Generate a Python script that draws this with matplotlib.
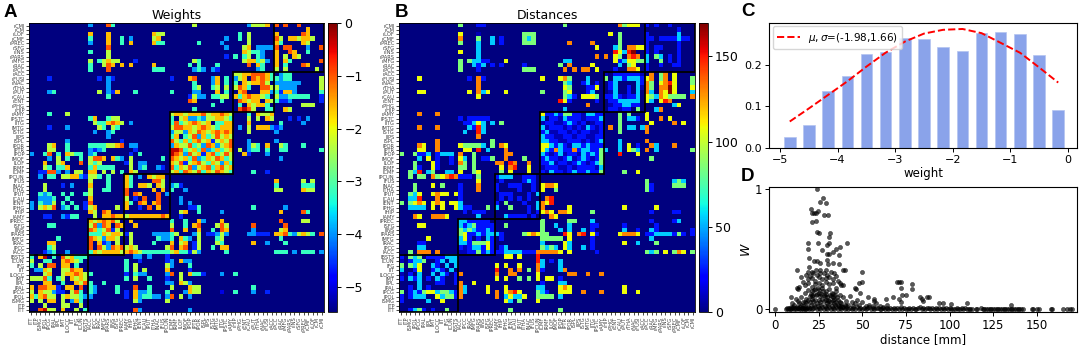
import numpy as np
import matplotlib
matplotlib.use("Agg")
import matplotlib.pyplot as plt
from matplotlib.patches import Rectangle

W, H = 1084, 351

# Colour letters used in the matrix rows -> values of each panel
WEIGHT_LEVELS = {"n": -5.0, "b": -4.6, "c": -3.95, "g": -3.2, "y": -2.35, "o": -1.6, "r": -1.0, "d": -0.3}
DIST_LEVELS = {"n": 8, "b": 24, "c": 55, "g": 85, "y": 108, "o": 130, "r": 150, "d": 168}

BLOCK_SIZES = [13, 8, 10, 14, 9, 11]

REGIONS = ["lTT", "lTP", "lSMG", "lPOL", "lPCG", "lPAL", "lIPL", "lMT", "lLOCC", "lIT", "lFG", "lCUN", "lBSTS",
           "lACC", "lPCC", "lRAC", "lMFG", "lPARS", "lINS", "lSFG", "lPREC",
           "lAMY", "lHIP", "lPHG", "lENT", "lCAU", "lPUT", "lTHA", "lNAC", "lFUS", "lPCUN",
           "lCMF", "lRMF", "lLOF", "lMOF", "lPOP", "lPTR", "lPOR", "lSPL", "lIPS", "lSTG", "lMTG", "lITG", "lPSTC",
           "rAMY", "rHIP", "rPHG", "rENT", "rCAU", "rPUT", "rTHA", "rNAC", "rFUSI",
           "rACC", "rPCC", "rRAC", "rMFG", "rPARS", "rINS", "rSFG", "rPREC", "rCMF", "rLOF", "rCM", "rCMI"]

# Sparse rows, top to bottom: "column+colour letter"
WEIGHT_ROWS = [
    "13c 17r 18g 36y 48c 49y 50y 51y 52o 54r 56r 59r",
    "61o",
    "13o 17o 27o 28y 29y 46g 48y 54o 60r 61o",
    "13g 17o 20g 22c 27y 28o 43c 46g 48y 54r 55y 57o 58o 59y 60o 61o 62y",
    "13c 17o 20g 22o 27o 28g 29g 37g 42c 48y 54o 55g 60o 61y",
    "17r 43c 47y 48o 50c 51c 52c 53c 54r 56r 57r 61c 64r",
    "13g 17y 47o 48y 49g 50g 51c 54o 57r 58o 61g",
    "17y 43b 45g 47g 48y 50g 51c 54o 56y 58o 59y",
    "13y 15g 16y 17o 18y 19y 23b 36y 37g 47y 48o 49o 50g 51y 52c 54o 56o 57g 64r",
    "13g 16y 17r 18o 20o 22o 27o 35g 37g 41g 48r 50o 51g 54o 56g 60r 61o",
    "13g 17r 27g 28g 29g 36c 37g 38c 40c 41b 50c 51g 54y 56y 63y",
    "45y 46y 47o 48o 49r 50r 51r 52o 53g 55c 56g 57g",
    "4b 15b 17c 18b 31b 35o 36r 40c 41o 43g 45c 46y 47o 49r 50o 51r 52o 53g 54g 55c 56g 57g 64y",
    "17c 36g 40c 41o 43g 45g 47o 48y 49o 50o 51r 52y 54c 55c 56c 57c 58c 59c 64y",
    "17c 36g 37y 40g 41y 43y 45y 46r 47o 48g 51r 52r 53y 54y 55c 56c 57c 58c 64y",
    "4c 5g 15y 17c 18b 19o 23g 31g 36c 37c 41o 43g 46o 47r 51o 52o 53c 54g 55b 56o 57o 58c 64g",
    "17g 35b 36y 37c 38c 40g 41g 42y 43y 45o 46g 47o 48r 49o 50o 51y 52g 54y 55c 56c 57g 58g 59g 60g 61g 64b",
    "35r 36o 42g 46r 47o 48y 49o 50o 52o 53y 54g 55b 56b 57c 64b",
    "40g 46g 48o 49y 50o 51o 52g 60y 61y 62y",
    "36g 46r 47d 48r 49y 52g 53g 56o 57y",
    "4g 8y 31y 32o 33o 34y 35o 36o 37o 38r 39y 40o 41o 42r 43o 44y 48g 50o 51y 52y 53o",
    "13g 14o 17g 18y 19y 31g 33y 34o 35c 36c 37g 38c 39y 40y 41o 42o 43y 44g 48y 50y 52o 53y 57b 59b 61c",
    "14y 15g 16g 17o 18r 19o 20y 22c 31g 32r 33g 34y 35o 36r 37o 38y 39o 41g 42g 43o 44o 48o 55g 60c",
    "4b 8c 15y 16g 18y 19g 31y 32r 33r 34o 35o 36y 37o 38r 39o 40y 41g 42o 43o 44o 46c 48y 50o 51o 52o 53c 54b 55c",
    "14c 17c 18g 31c 32y 33y 34c 35o 36y 37r 38o 39y 40o 41r 42o 43r 44o 48y 54c",
    "17c 31g 32o 34g 35y 36r 37c 38o 39g 40y 41r 42y 43o 44y",
    "8c 20b 31r 32y 33g 34o 35g 36o 37r 38y 39o 40b 41y 42o 43y 44r 48c 54c",
    "4y 5o 8g 13g 14g 15g 16g 17y 18y 19o 20r 22c 23c 31c 32o 33y 34y 35r 36g 37y 38c 39r 40o 41c 42y 43o 44r 48c 49y 50g 52o 55y 56g 60g",
    "4y 5y 8g 13c 14b 15c 16g 23b 31d 32d 33r 34g 35y 36o 37g 38r 39c 40g 41o 42g 43y 44o 46y 48c 49g 50g 52g 55g 56g 64g",
    "0c 3g 4r 6g 8o 9y 10g 11g 13c 14g 22b 24g 31d 32r 33o 34c 35r 36y 37o 38b 39o 40r 41g 42y 43r 44y 47o 48b 52c",
    "4c 6y 8g 11g 13y 14r 15r 16o 18o 19g 20c 22y 29g 31r 32o 33y 34o 35g 36r 37c 38g 39o 40y 41r 42o 43g 44y 55c",
    "3o 6y 7o 11r 13y 14g 15y 21b 22y 24c 25c 31o 32y 33r 34b 35y 36o 37r 38y 39g 40o 41y 42c 43o 44g",
    "3y 4g 6g 7g 8o 13g 14o 15g 16g 17g 18g 22y 24c 25g 28c 29b 31r 32g 33o 34y 35r 36c 37y 38o 39r 40g 41o 42r 43y 44o",
    "2b 3b 4r 5r 6c 8c 10y 11y 13o 14o 16y 18y 20g 22o 23y 31y 32o 33g 34r 35o 36y 37r 38g 39o 40y 41r 42o 43y 44g 49g 52b",
    "2c 4g 5g 7y 8y 9o 10o 11c 12b 13y 14y 15g 17g 21o 22g 24c 26o 27y 28o 29o",
    "13y 17g 21o 22g 27r 28r 29y 54o 60y 62y",
    "3y 7b 9c 13o 17g 21o 22g 24o 25o 26y 28o 29y 31c 32g 33b 54g 60g 61g 62g",
    "3y 13y 16g 17g 21r 27o 29o 31g 34c 54y 55y 60o 61y 62y",
    "2g 3c 4g 7g 9g 12g 13y 21r 23r 24o 28r 30c",
    "2c 3c 4c 5g 8g 13o 21y 23b 25r 28r 33c",
    "0c 2g 3c 4c 5y 7g 9g 12b 13r 21o 22g 24r 25o 27o 28r 33c 35c",
    "0c 2y 3o 4y 5r 7c 8g 10g 12b 13y 14o 19y 21o 24b 26r 28o 35b 36b 37g 49g 56c",
    "13o 14y 16r 17o 33y 34o 37g 42c 55o 60r 61g",
    "3b 4b 7c 8b 9g 10g 14y 16o 17o 18r 19o 20o 21y 22o 23o 24o 25o 26o 27o 28o 29r 30o 33b",
    "13o 14y 15o 16r 17o 18r 19y 22o 31g 34g 37o 38c 42o 55r 60y 61y",
    "4g 5g 13y 14r 15c 16r 17o 19r 20o 23o 31y 34g 36o 37r 41y 42r 43y 49r 56r",
    "13r 14o 15g 16y 17r 18b 19y 31r 34o 37o 40g 42r 43o 49c 55y 56o",
    "13g 14g 15g 16o 17y 18o 19o 20y 21b 22y 27c 28c 29c 30c 31g 32y 36c 37y 39b 40b 41c 42y 43c 48c 49c 50b 51b 52b 54o 55o 56r 57g 58c 59y 60o 61y 62g 64r",
    "6g 13r 14o 15y 16c 17o 18o 19y 22y 28g 29c 30c 31g 33o 34g 35c 37y 41g 42y 55g",
    "4o 5o 13r 15o 16b 17c 19y 22y 27g 31o 33y 34o 36b 37y 41y 42g 49o 52c 56g",
    "4g 5y 13r 15r 16y 17c 18r 19o 20r 21y 22o 23y 30y 31r 33o 34r 36b 37y 40g 42o 43o",
    "3b 4c 5g 8c 13g 14o 15y 16o 17o 18o 19o 20y 21o 22r 23o 24y 25g 26g 27g 28g 29g 30g 31y 32o 33g 34g 35b 36y 37c 43g 54g 55g 56g 58c 60g 61g 62g 64c",
    "0g 2o 3d 5g 7r 8y 9o 10g 11g 12g 23c 24c 26c 30b",
    "0y 3g 4g 7o 8r 9o 10y 11g 21g 24b 30b 31c 33o 34c 35c",
    "0g 2y 4r 5r 7o 8o 10g 21g 23y 30y 31c 35g",
    "1c 2c 3o 4y 7y 8y 9r 10o 11o 21g 23y 25y 30o 35b",
    "3y 4o 7y 8o 9o 10r 11o 12y 13g 21b 23g 24c 25c 30c 31r 33y 35o 36g 37g 38b 42c 45g",
    "0y 1y 2y 3r 4g 6g 7y 9o 10y 11o 12y 21g 23y 26g 30b 33y",
    "3o 4o 7g 10o 11y 12r 13g 16g 30c 31c 33o 34y 35c",
    "0o 2r 3r 4o 5o 6b 8o 9o 11r 13g 14c 19g 23r 26g 31y 35o 36y 37y 49g",
    "0y 2o 3y 4y 5c 6b 7b 9y 10r 11g 13g 14c 19g 21b 23o 24c 25c 26g 30g 34c 35o 36y 37y 42n 45g 49c 52b",
    "0o 1g 2o 3r 4y 5y 7y 8o 9y 10y 11g 12c 13c 21b 23o 24c 25g 26g 27c 28c 30c 31r 33y 35c",
    "0y 2y 4o 5o 7y 9c 10o 11g 23y 24c 30y",
    "3y 7y 8y 11y",
    "2r 3d 4y 5y 7o 10y 12g 23r 24c 35c",
]

DIST_ROWS = [
    "13g 17b 18b 36g 48o 49g 50y 51y 52y 54b 56b 59b",
    "61b",
    "13y 17n 27g 28g 29g 46y 48g 54b 61c",
    "13o 17g 20c 22b 27g 28c 29g 48g 54b 55b 57b 58b 59b 60b 61c 62b 63b",
    "13g 17c 20c 22b 27g 28g 29g 37o 42o 48g 54b 61b",
    "17c 43y 47c 48g 50o 51o 52y 53y 54b 56b 57b 61b",
    "13y 17c 47r 48y 49c 50r 51d 54b 56b 61b",
    "17c 43o 45o 47y 48g 50o 51r 52o 54c 56g 57c 59b 61b",
    "13g 15g 16c 17c 18b 19b 23y 36c 37c 47y 48b 49c 50y 51y 52g 53g 54c 57g 59b 61b",
    "13g 16c 17b 18c 20b 22b 27b 35g 37o 42y 48c 50g 51y 54b 57b 60b 61b",
    "13g 17b 27g 28g 29g 36o 38o 40o 41o 43y 47b 50o 51o 52y 54b",
    "45n 47b 48b 49b 50b 51b 52b 53n 55o 57g 58o 60y",
    "4y 15b 17o 18b 31y 35y 36o 37g 41c 45g 47c 48c 49b 50c 51c 52c 53b 54y 55o 57g 58o 60y 64g",
    "17o 36g 37c 40b 41c 43b 46b 47c 52c 53b 54o 55g 57y 58o 59r 60y 64g",
    "17o 36y 37g 41b 42b 43y 46b 47c 50b 52c 53n 54o 55g 57o 58o 59d 60y 64y",
    "4y 5y 15y 17o 18c 19y 23y 31g 36g 37y 41b 42c 46n 47c 50b 52c 54o 55c 57o 58y 59d 60y 64c",
    "17y 36g 37c 38b 40y 41y 42y 43g 45b 46b 47c 48b 49n 50b 51b 52c 54y 55g 56c 57o 58y 59g 60g 61g 62g 64o",
    "35r 36y 37b 43b 46b 47b 48c 49c 50c 51c 52c 54y 55c 57y 58r 59o",
    "41o 46n 47b 48b 49c 50c 51b 52b 60c 61y",
    "36c 46b 47b 48n 49b 50b 52g 56c 57o",
    "4o 8o 31y 32b 33b 34c 35b 36g 37g 38b 39b 40n 41c 42c 43b 44b 48g 50g 54y",
    "13b 15b 16b 17b 18b 19b 31c 33b 34b 35n 36c 37b 38b 39b 40n 41b 42b 43b 44c 48g 50c 51c 52b 54y 57o 59y",
    "14b 15b 16c 17y 18c 20c 22g 31n 32b 33b 34n 35n 36b 37c 38b 39n 40b 42n 43b 44b 48g 55y 60o 62y",
    "4o 8o 15c 16b 17r 18c 31c 32n 33b 34b 35b 36n 37b 38n 39b 40n 41c 42b 43n 44b 46o 48g 50c 51c 53c 54o",
    "14c 17r 18c 31b 32c 33n 34n 35b 36b 37n 38b 39n 40b 41b 42n 43n 44b 48g 54o",
    "17o 31c 32b 33b 34n 35n 36b 37b 38n 39b 40b 41n 42n 43b 44b",
    "8o 20g 31c 32c 33b 34b 35n 36n 37b 38b 39b 40n 41b 42n 43b 44c 48c 54o",
    "4o 5y 8o 13y 14g 15g 16g 17g 18c 20g 22o 23y 31y 32y 33c 34b 35c 36b 37n 38c 39c 40b 41c 42b 43b 44b 48c 50y 52b 55o 56c 60o",
    "4y 5y 8o 14y 15y 17r 19c 23o 31y 32c 33b 34o 35c 36b 37b 38o 39b 40c 41c 42b 43b 44g 45c 48c 50y 51g 52c 54o 56c 64g",
    "0g 3g 4b 5b 6c 8b 9c 10c 11c 13o 16g 23o 24o 31c 32b 33n 34b 35c 36n 37b 38b 39n 40c 41b 42c 43b 44g 48r 52y",
    "4c 6y 8b 11b 13y 14c 16g 18b 19b 20g 23o 27g 31b 32c 33b 34b 35n 36b 37c 38n 39b 40c 41b 42n 43b 44g 55g",
    "3g 7y 8b 11b 13o 14g 16g 21o 22o 24r 25o 28o 31b 32b 33c 34n 35b 36b 37n 38b 39c 40b 41n 42b 43c 44g",
    "3g 4b 7y 8b 13g 14g 16g 22y 24o 25r 28y 31n 32b 33b 34b 35n 36n 37b 38n 39b 40b 41b 42b 43n 44c",
    "2g 3c 4r 6c 7g 10c 11c 13y 16g 17y 22g 24y 28y 31b 32n 33c 34b 35b 36n 37b 38c 39b 40b 41c 42b 43b 44g 49g 52y",
    "2g 4g 5g 7o 8g 9y 10o 11r 12o 13b 14b 15b 17g 21b 22c 23c 24c 27b 28b 29b",
    "17y 22b 27b 28c 29b 54g 60c 61g 62c",
    "3g 7y 9g 13b 17o 21b 24b 25b 26b 29b 31y 32o 33o 34y 54g 55b 60g 61g 62g",
    "3g 13b 17o 21b 26b 29b 31y 34g 54g 55b",
    "2g 3c 4y 7y 8o 9y 10y 12y 13b 22b 23b 24b 28b 30c",
    "2c 3c 4r 8o 13b 22b 24b 26b 28b 32o 33r",
    "0g 2g 3y 4o 5y 7y 8o 9y 11y 12y 13c 21b 23g 27b 30c 31o 32y 33r",
    "2c 3c 4c 5c 7y 9y 12y 13c 14b 15b 19g 21c 24g 28b 30c 31o 37y 49y 56y",
    "14b 16b 17b 18b 28b 30b 31y 32o 33y 35o 36o 37y 42g 55b 60b 61b",
    "3o 4y 7o 8o 9o 10y 17c 23c 24b 25b 26b 27b 29b 33o 34y",
    "13c 14c 15b 16b 17b 18b 19b 31g 37g 38g 42c 55b 60b 61c",
    "4y 5y 13c 14b 15c 16g 17b 18b 19b 20b 23g 31g 34c 37c 42b 43b 49b 56b",
    "13g 14c 15g 16c 17b 18b 19c 20b 31g 35c 37c 40c 42b 49c 52b 55c 56b 64b",
    "13g 14y 15b 16b 17c 18b 19c 20c 21c 22b 27g 28y 29o 30y 31g 32g 36r 37y 39o 40r 42y 43b 48y 49o 50o 51o 52y 54b 55b 56c 57c 58c 59c 60b 61g 62b 64b",
    "6y 13c 14y 15b 17b 19c 20b 22b 31g 32g 33g 34g 35g 37y 42b 55c",
    "4b 5b 13c 14c 15b 16g 17g 18g 19y 20b 31c 36y 37c 42b 49y 52c 56g",
    "4c 5c 13b 14n 15b 16c 17c 18b 19y 20b 22b 23c 31g 32c 33g 34c 36y 37c 40c 42b",
    "2g 4o 5o 6o 8o 13n 14n 15b 16b 17g 18b 19c 20b 21b 22b 23c 24c 25c 26c 27b 28b 29b 30o 31o 32o 33o 34o 35y 37y 43b 54g 55c 56g 58y 60g 61o 62y 64g",
    "0b 2g 3c 4g 6b 7b 8b 9b 10c 11c 12c 23y 24y 26y 30r",
    "0n 2b 3c 4c 5g 8b 9c 11c 12c 30r 31c 33b 35c",
    "0g 2g 3c 4y 7c 8b 10c 12c 21y 23y 26y 30o 31c 35c",
    "0c 3b 4y 7b 8c 9b 11c 21r 24o 26o 28g 30o 31b 35c 36o",
    "0n 2b 4c 7c 9c 10b 12b 13o 21o 24o 25o 30y 37o 38o 41o 44o",
    "0b 2c 3b 4c 6b 8c 9b 12b 21y 23y 26g 28g 30y 32y 33y 35b",
    "4c 8b 9b 12b 13o 16y 31b 35c 36c",
    "2b 4c 6b 13o 14c 19y 23y 30c 31c 35y 36o 37y 49y",
    "0g 2b 3c 4b 5g 6y 7y 8c 9g 10g 11c 12b 13o 14c 19y 21o 23y 24o 25r 26y 30g 31c 32b 35y 36y 37y 40o 44o 49y 52y",
    "0b 2b 3c 4c 5c 8y 9c 10g 11g 12b 13o 21o 23c 24y 25c 26c 27y 30g 31g 32g 33g 35c",
    "0b 6c 9y 23y 24c 26g 30y",
    "",
    "2b 3c 4g 5b 7b 10g 24g 35g",
]

HIST_CENTERS = [-4.83, -4.5, -4.17, -3.83, -3.5, -3.17, -2.83, -2.5, -2.17, -1.83, -1.5, -1.17, -0.83, -0.5, -0.17]
HIST_HEIGHTS = [0.026, 0.055, 0.136, 0.172, 0.225, 0.230, 0.264, 0.262, 0.243, 0.232, 0.276, 0.278, 0.274, 0.222, 0.091]
FIT_VALUES = [0.064, 0.095, 0.127, 0.160, 0.195, 0.228, 0.255, 0.274, 0.283, 0.285, 0.275, 0.252, 0.228, 0.193, 0.157]

POINTS_UPPER = [
    (23.9, 1.0), (25.8, .897), (27.3, .925), (29.2, .883), (20.6, .836), (22.4, .80), (21.4, .80), (24.8, .82),
    (23.5, .80), (28, .79), (30.6, .786), (21.4, .73), (23.5, .74), (24, .647), (25.4, .633), (31.5, .633),
    (31.1, .60), (19.1, .55), (24.8, .555), (41.5, .55), (31.1, .55), (29.6, .536), (18.7, .50), (27, .495),
    (37, .52), (34.8, .50), (33.4, .475), (31, .46), (30, .46), (36.5, .45), (19.5, .425), (24.2, .40), (22.4, .40),
    (26, .39), (30, .41), (33.4, .39), (30.6, .375), (19.5, .355), (36.7, .375), (12.4, .33), (39, .33), (40, .33),
    (50, .31), (26, .33), (23.5, .33), (19, .31), (21, .31), (29, .33), (14.7, .27), (16, .23), (12.4, .175),
    (14, .19), (49.7, .225), (48.3, .217), (45.7, .18), (46.5, .17), (69.7, .23), (71.2, .23), (72.5, .225),
    (78.3, .21), (78.3, .17), (72, .18), (72.6, .12), (75, .12), (88, .105), (87, .105), (83, .105), (84, .09),
    (63.4, .086), (67.5, .105), (57, .086), (57, .07), (53.5, .105), (110, .05), (135, .036), (96, .05), (101, .045),
    (94, .05), (71, .09), (72, .06), (85, .07), (49, .14), (47, .08), (43, .11), (41, .07), (39, .20), (37, .22),
]
POINTS_CLUSTER = [
    (18, .29), (20, .28), (22, .30), (24, .29), (26, .30), (28, .30), (30, .29), (32, .31), (34, .30), (35, .28),
    (19, .25), (21, .26), (23, .24), (25, .27), (27, .25), (29, .26), (31, .27), (33, .25), (36, .24), (38, .20),
    (17, .20), (19, .22), (21, .19), (23, .21), (25, .22), (27, .20), (29, .23), (31, .21), (33, .22), (35, .18),
    (13, .17), (15, .10), (17, .14), (19, .16), (21, .15), (23, .17), (25, .16), (27, .18), (29, .15), (31, .17),
    (33, .13), (35, .15), (37, .12), (39, .10), (16, .06), (18, .09), (20, .11), (22, .12), (24, .13), (26, .11),
    (28, .12), (30, .10), (32, .11), (34, .09), (36, .08), (38, .05), (40, .04), (9.5, .105), (10, .05), (11, .04),
    (12, .09), (13, .07), (14, .05), (15, .04), (16, .03), (17, .06), (18, .05), (19, .08), (20, .06), (21, .09),
    (22, .07), (23, .08), (24, .05), (25, .08), (26, .06), (27, .09), (28, .07), (29, .08), (30, .05), (31, .07),
    (32, .06), (33, .08), (34, .05), (35, .06), (36, .04), (37, .06), (38, .03), (42, .04), (44, .06), (45, .03),
    (46, .05), (48, .04), (50, .06), (52, .03), (54, .04), (56, .03), (58, .05), (60, .03), (62, .02), (64, .04),
    (20.5, .13), (21.5, .11), (22.5, .16), (23.5, .12), (24.5, .18), (25.5, .14), (26.5, .13), (27.5, .15), (28.5, .11),
    (29.5, .13), (30.5, .08), (31.5, .12), (32.5, .14), (33.5, .10), (34.5, .12), (35.5, .10), (20.5, .04), (22.5, .04),
    (24.5, .03), (26.5, .04), (28.5, .03), (30.5, .04), (32.5, .03), (34.5, .04), (36.5, .03), (38.5, .02), (40.5, .03),
]
POINTS_FLOOR = [
    (0, 0), (6.5, .003), (7, .01), (7.5, .002), (8, .015), (8.5, .005), (9, .02), (9.5, .004), (10, .01), (10.5, .02),
    (11, .006), (11.5, .015), (12, .003), (12.5, .02), (13, .008), (13.5, .012), (14, .004), (14.5, .02), (15, .006),
    (15.5, .015), (16, .002), (16.5, .012), (17, .005), (17.5, .018), (18, .003), (18.5, .01), (19, .02), (19.5, .005),
    (20, .015), (21, .004), (22, .012), (23, .02), (24, .004), (25, .014), (26, .006), (27, .018), (28, .003), (29, .012),
    (30, .006), (31, .02), (32, .004), (33, .014), (34, .002), (35, .02), (36, .006), (37, .012), (38, .004), (39, .018),
    (40, .004), (41, .012), (42, .006), (43, .015), (44, .003), (45, .012), (46, .005), (47, .018), (48, .002), (49, .01),
    (50, .005), (51, .015), (52, .002), (53, .01), (54, .018), (55, .004), (56, .012), (57, .002), (58, .008), (59, .015),
    (60, .002), (61, .006), (62, .012), (63, .002), (64, .008), (65, .003), (66, .012), (67, .002), (68, .015), (69, .004),
    (70, .01), (71, .002), (72, .018), (73, .004), (74, .01), (75, .002), (76, .006), (77, .012), (78, .003), (79, .008),
    (80, .002), (81, .005), (82, .01), (83, .02), (84, .004), (85, .012), (86, .002), (87, .008), (88, .015), (89, .003),
    (90, .008), (91, .002), (92, .012), (93, .004), (94, .008), (95, .002), (96, .012), (97, .004), (98, .008), (99, .002),
    (100, .012), (101, .004), (102, .006), (103, .002), (104, .01), (105, .004), (106, .002), (107, .008), (108, .003),
    (109, .012), (110, .004), (111, .002), (112, .006), (113, .002), (115, .004), (116, .002), (118, .008), (119, .003),
    (120, .006), (121, .002), (122, .004), (123, .002), (124, .006), (125, .003), (126, .001), (127, .004), (128, .002),
    (129, .002), (130, .005), (131, .002), (132, .004), (133, .001), (134, .003), (135, .006), (136, .002), (137, .001),
    (138, .003), (139, .002), (140, .001), (141, .003), (142, .001), (147, .002), (148, .001), (150, .001), (151, .002),
    (158, .001), (158.5, .002), (165, .001), (167.5, .002), (169, .001), (170, .002),
]


def parse_rows(rows, levels, empty):
    matrix = np.full((len(rows), len(rows)), float(empty))
    for r, row in enumerate(rows):
        for cell in row.split():
            matrix[r, int(cell[:-1])] = levels[cell[-1]]
    return matrix


def px_axes(fig, left, top, right, bottom):
    return fig.add_axes([left / W, 1 - bottom / H, (right - left) / W, (bottom - top) / H])


def draw_matrix(fig, box, cbar_box, matrix, vmin, vmax, cbar_ticks, cbar_labels, title):
    ax = px_axes(fig, *box)
    im = ax.imshow(matrix[::-1], cmap="jet", vmin=vmin, vmax=vmax, origin="lower", aspect="auto", interpolation="nearest")
    n = len(REGIONS)
    ax.set_xticks(range(n))
    ax.set_yticks(range(n))
    ax.set_xticklabels(REGIONS, rotation=90, fontsize=3.7, color="#444444")
    ax.set_yticklabels(REGIONS, fontsize=3.7, color="#444444")
    ax.tick_params(length=2.2, width=0.5, pad=1)
    ax.set_title(title, fontsize=9, pad=3)

    # black boxes around the blocks on the diagonal
    start = 0
    for size in BLOCK_SIZES:
        ax.add_patch(Rectangle((start - 0.5, start - 0.5), size, size, fill=False, edgecolor="black", linewidth=1.3))
        start += size

    cax = px_axes(fig, *cbar_box)
    cb = fig.colorbar(im, cax=cax)
    cb.set_ticks(cbar_ticks)
    cb.set_ticklabels(cbar_labels)
    cb.ax.tick_params(labelsize=9, length=3, width=0.7, pad=2)
    cb.outline.set_linewidth(0.6)
    for spine in ax.spines.values():
        spine.set_linewidth(0.6)


def main():
    fig = plt.figure(figsize=(W / 100, H / 100), dpi=100)
    plt.rcParams["font.family"] = "DejaVu Sans"

    weights = parse_rows(WEIGHT_ROWS, WEIGHT_LEVELS, -5.49)
    distances = parse_rows(DIST_ROWS, DIST_LEVELS, 0)

    draw_matrix(fig, (29, 23.3, 324, 312.3), (328.3, 23.3, 337.3, 312.3), weights, -5.49, 0,
                [0, -1, -2, -3, -4, -5], ["0", "\u22121", "\u22122", "\u22123", "\u22124", "\u22125"], "Weights")
    draw_matrix(fig, (399, 23.3, 695, 312.3), (699.3, 23.3, 708, 312.3), distances, 0, 169.3,
                [0, 50, 100, 150], ["0", "50", "100", "150"], "Distances")

    # histogram of the weights
    ax_c = px_axes(fig, 769.3, 22.7, 1077, 148.3)
    ax_c.bar(HIST_CENTERS, HIST_HEIGHTS, width=0.2, color="#8aa3ea", edgecolor="#b4c4f1", linewidth=0.5)
    ax_c.plot(HIST_CENTERS, FIT_VALUES, "--", color="red", linewidth=1.4, label=r"$\mu,\sigma$=(-1.98,1.66)")
    ax_c.set_xlim(-5.185, 0.156)
    ax_c.set_ylim(0, 0.30)
    ax_c.set_xticks([-5, -4, -3, -2, -1, 0])
    ax_c.set_xticklabels(["\u22125", "\u22124", "\u22123", "\u22122", "\u22121", "0"])
    ax_c.set_yticks([0, 0.1, 0.2])
    ax_c.set_yticklabels(["0.0", "0.1", "0.2"])
    ax_c.tick_params(labelsize=8, length=3, width=0.7, pad=2)
    ax_c.set_xlabel("weight", fontsize=8.5, labelpad=1)
    ax_c.legend(loc="upper left", fontsize=7.5, borderaxespad=0.35, handlelength=2.2)

    # weight against distance
    ax_d = px_axes(fig, 769.3, 187.3, 1077, 311.7)
    points = np.array(POINTS_UPPER + POINTS_CLUSTER + POINTS_FLOOR)
    ax_d.scatter(points[:, 0], points[:, 1], s=9, color="black", alpha=0.65, linewidths=0.4)
    ax_d.set_xlim(-3.2, 173)
    ax_d.set_ylim(-0.02, 1.017)
    ax_d.set_xticks([0, 25, 50, 75, 100, 125, 150])
    ax_d.set_yticks([0, 1])
    ax_d.tick_params(labelsize=8.5, length=3, width=0.7, pad=2)
    ax_d.set_xlabel("distance [mm]", fontsize=8.5, labelpad=1)
    ax_d.set_ylabel(r"$W$", fontsize=9, labelpad=1)

    for letter, x, y in [("A", 4, 17), ("B", 395, 17), ("C", 741, 16), ("D", 741, 181)]:
        fig.text(x / W, 1 - y / H, letter, fontsize=13.5, fontweight="bold", family="Liberation Sans")

    fig.savefig("out.png", dpi=100)
    plt.close(fig)


if __name__ == "__main__":
    main()
